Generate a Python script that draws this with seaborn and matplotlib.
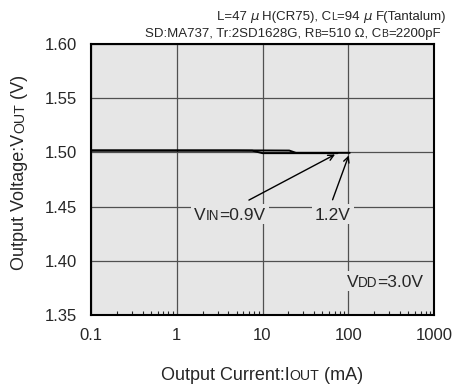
import pandas as pd
import seaborn as sns
import matplotlib.pyplot as plt
from matplotlib.patches import Rectangle
from matplotlib.ticker import LogLocator, NullFormatter, FixedLocator, FixedFormatter

# data
iout_09 = [0.1, 1, 5, 7.6, 10, 30, 75]
vout_09 = [1.5017, 1.5017, 1.5017, 1.5016, 1.4993, 1.4993, 1.4993]
iout_12 = [0.1, 1, 10, 20.5, 24.5, 60, 104]
vout_12 = [1.5018, 1.5018, 1.5018, 1.5017, 1.4996, 1.4996, 1.4996]

x_ticks = [0.1, 1, 10, 100, 1000]
x_labels = ['0.1', '1', '10', '100', '1000']
y_ticks = [1.35, 1.40, 1.45, 1.50, 1.55, 1.60]

df = pd.concat([
    pd.DataFrame({'Iout': iout_09, 'Vout': vout_09, 'Vin': '0.9V'}),
    pd.DataFrame({'Iout': iout_12, 'Vout': vout_12, 'Vin': '1.2V'}),
])

sns.set_style('ticks')
plt.rcParams['font.family'] = ['Liberation Sans', 'DejaVu Sans']

W, H = 456, 388
BG = '#e6e6e6'
fig = plt.figure(figsize=(W / 100, H / 100), dpi=100)
ax = fig.add_axes([91 / W, 1 - 315 / H, 343 / W, 271 / H])
ax.set_facecolor(BG)

sns.lineplot(data=df, x='Iout', y='Vout', units='Vin', estimator=None,
             color='black', lw=1.4, ax=ax, legend=False)

ax.set_xscale('log')
ax.set_xlim(0.1, 1000)
ax.set_ylim(1.35, 1.60)
ax.xaxis.set_major_locator(FixedLocator(x_ticks))
ax.xaxis.set_major_formatter(FixedFormatter(x_labels))
ax.xaxis.set_minor_locator(LogLocator(base=10, subs=range(2, 10)))
ax.xaxis.set_minor_formatter(NullFormatter())
ax.set_yticks(y_ticks)
ax.set_yticklabels([f'{v:.2f}' for v in y_ticks])
ax.grid(True, which='major', color='#505050', lw=0.9)
ax.tick_params(which='major', length=0, labelsize=12, pad=9)
ax.tick_params(axis='y', pad=10)
ax.tick_params(which='minor', direction='in', length=3, width=0.8,
               bottom=True, top=False)
for s in ax.spines.values():
    s.set_visible(True)
    s.set_linewidth(1.5)
    s.set_color('black')
ax.set_xlabel('')
ax.set_ylabel('')

# arrows
ax.annotate('', xy=(iout_09[-1], vout_09[-1]), xytext=(6.5, 1.4548),
            arrowprops=dict(arrowstyle='->', lw=1.0, color='black'))
ax.annotate('', xy=(iout_12[-1], vout_12[-1]), xytext=(64, 1.4539),
            arrowprops=dict(arrowstyle='->', lw=1.0, color='black'))

renderer = fig.canvas.get_renderer()


def ink_width(s, size):
    t = fig.text(0, 0, s, fontsize=size)
    w = t.get_window_extent(renderer).width
    t.remove()
    return w


def width_of(s, size):
    # measure with a trailing bar so that kerning and spaces are counted,
    # then take off the bar and its left side bearing
    if s.startswith('$'):
        return ink_width(s, size) + 2
    bar = ink_width('|', size)
    bearing = (ink_width('||', size) - 2 * bar) / 2
    return ink_width(s + '|', size) - bar - bearing


def mixed_text(x, y, parts, size, ha='center', rotation=0, bg=None):
    # x, y in image pixels (y from top, baseline); parts: (text, small caps?)
    sizes = [size * (0.78 if small else 1) for _, small in parts]
    widths = [width_of(s, sz) for (s, _), sz in zip(parts, sizes)]
    total = sum(widths)
    pos = {'center': -total / 2, 'right': -total, 'left': 0}[ha]
    start = (x if rotation == 0 else H - y) + pos
    if bg:
        em = size * 100 / 72
        fig.patches.append(Rectangle(((start - 3) / W, (H - y - 0.25 * em) / H),
                                     (total + 6) / W, 1.2 * em / H,
                                     transform=fig.transFigure, facecolor=bg,
                                     edgecolor='none', zorder=2))
    for (s, _), sz, w in zip(parts, sizes, widths):
        px, py = (start, H - y) if rotation == 0 else (x, start)
        fig.text(px / W, py / H, s, fontsize=sz, ha='left', va='baseline',
                 rotation=rotation, rotation_mode='anchor', zorder=3)
        start += w


mixed_text(446, 20, [('L=47 ', False), (r'$\mu$', False), ('H(CR75), C', False),
                     ('L', True), ('=94 ', False), (r'$\mu$', False),
                     ('F(Tantalum)', False)], 9.5, ha='right')
mixed_text(441, 37, [('SD:MA737, Tr:2SD1628G, R', False), ('B', True),
                     ('=510 \u03a9, C', False), ('B', True), ('=2200pF', False)],
           9.5, ha='right')
mixed_text(262, 380, [('Output Current:I', False), ('OUT', True), (' (mA)', False)], 13)
mixed_text(24, 172, [('Output Voltage:V', False), ('OUT', True), (' (V)', False)], 13,
           rotation=90)
mixed_text(230, 220, [('V', False), ('IN', True), ('=0.9V', False)], 12.5, bg=BG)
mixed_text(333, 220, [('1.2V', False)], 12.5, bg=BG)
mixed_text(385, 287, [('V', False), ('DD', True), ('=3.0V', False)], 12.5, bg=BG)

fig.savefig('out.png', dpi=100)
